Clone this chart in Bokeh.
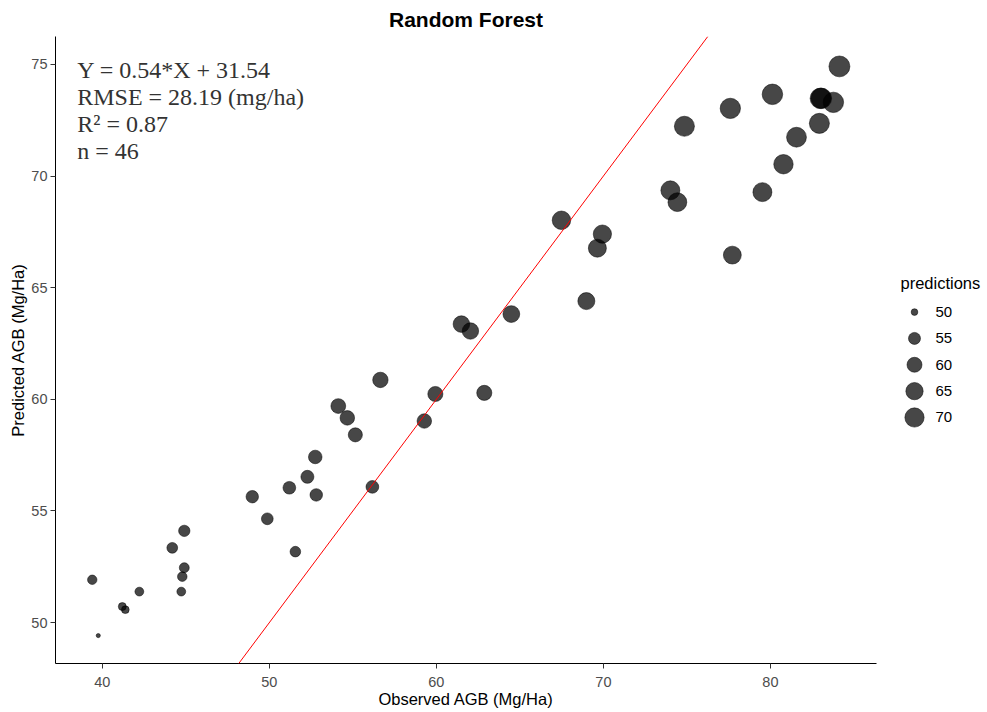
import math
from bokeh.plotting import figure
from bokeh.models import Range1d, FixedTicker, Slope, Label
from bokeh.layouts import row
from bokeh.embed import file_html
from bokeh.resources import INLINE

# ---- data ----
observed = [39.40, 39.76, 41.20, 41.38, 42.22, 44.19, 44.73, 44.79, 44.91, 44.91,
            48.98, 49.88, 51.20, 51.56, 52.28, 52.75, 52.81, 54.13, 54.67, 55.15,
            56.65, 56.17, 59.28, 59.94, 61.50, 62.04, 62.87, 64.49, 67.49, 68.98,
            69.64, 69.94, 74.01, 74.43, 74.85, 77.60, 77.72, 79.52, 80.12, 80.78,
            81.56, 82.93, 82.99, 83.05, 83.77, 84.13]
predicted = [51.92, 49.42, 50.72, 50.58, 51.39, 53.35, 51.39, 52.06, 52.46, 54.11,
             55.64, 54.65, 56.04, 53.18, 56.53, 57.42, 55.72, 59.70, 59.17, 58.41,
             60.87, 56.08, 59.03, 60.24, 63.37, 63.06, 60.29, 63.82, 68.02, 64.40,
             66.77, 67.40, 69.36, 68.83, 72.23, 73.03, 66.46, 69.28, 73.66, 70.53,
             71.74, 72.36, 73.48, 73.48, 73.30, 74.91]
x_ticks = [40, 50, 60, 70, 80]
y_ticks = [50, 55, 60, 65, 70, 75]
legend_values = [50, 55, 60, 65, 70]
stats_lines = ["Y = 0.54*X + 31.54", "RMSE = 28.19 (mg/ha)", "R\u00b2 = 0.87", "n = 46"]

# size scale (area-like, as in ggplot scale_size)
vmin, vmax = min(predicted), max(predicted)
def size_scale(v):
    t = max(0.0, (v - vmin) / (vmax - vmin))
    return 4.15 + 16.8 * math.sqrt(t)

sizes = [size_scale(v) for v in predicted]

FONT = "Liberation Sans"
W, H = 987, 712
MAIN_W = 888
TOP, BOTTOM = 35, 663

p = figure(width=MAIN_W, height=H,
           x_range=Range1d(37.2, 86.35), y_range=Range1d(48.17, 76.25),
           output_backend="svg", toolbar_location=None,
           min_border_left=55, min_border_top=TOP, min_border_right=MAIN_W - 876,
           min_border_bottom=H - BOTTOM, title="Random Forest")
p.title.align = "center"
p.title.text_font = FONT
p.title.text_font_size = "21px"
p.title.text_font_style = "bold"
p.title.text_color = "black"
p.title.standoff = 11
p.grid.visible = False
p.outline_line_color = None
p.background_fill_color = "white"
p.border_fill_color = "white"

p.xaxis.ticker = FixedTicker(ticks=x_ticks)
p.yaxis.ticker = FixedTicker(ticks=y_ticks)
for ax in (p.xaxis, p.yaxis):
    ax.axis_line_color = "black"
    ax.axis_line_width = 1
    ax.major_tick_line_color = "#333333"
    ax.major_tick_out = 5
    ax.major_tick_in = 0
    ax.minor_tick_line_color = None
    ax.major_label_text_color = "#4d4d4d"
    ax.major_label_text_font = FONT
    ax.major_label_text_font_size = "14.5px"
    ax.axis_label_text_font = FONT
    ax.axis_label_text_font_size = "16.5px"
    ax.axis_label_text_font_style = "normal"
    ax.axis_label_text_color = "black"
p.xaxis.axis_label = "Observed AGB (Mg/Ha)"
p.yaxis.axis_label = "Predicted AGB (Mg/Ha)"
p.xaxis.major_label_standoff = 8
p.xaxis.axis_label_standoff = 0
p.yaxis.major_label_standoff = 3
p.yaxis.axis_label_standoff = 1

p.add_layout(Slope(gradient=1, y_intercept=0, line_color="red", line_width=1))

p.scatter(observed, predicted, size=sizes, fill_color="black", fill_alpha=0.72,
          line_color="black", line_alpha=0.5, line_width=1)

baselines = [74.77, 73.56, 72.34, 71.11]
for txt, yb in zip(stats_lines, baselines):
    p.add_layout(Label(x=38.5, y=yb, text=txt, text_font="Liberation Serif",
                       text_font_size="24px", text_color="#333333",
                       text_baseline="alphabetic"))

# ---- legend panel (pixel coordinates, y downward, frame aligned with main) ----
LW = W - MAIN_W
lp = figure(width=LW, height=H, x_range=Range1d(0, LW), y_range=Range1d(BOTTOM, TOP),
            output_backend="svg", toolbar_location=None,
            min_border_left=0, min_border_right=0,
            min_border_top=TOP, min_border_bottom=H - BOTTOM,
            x_axis_type=None, y_axis_type=None)
lp.grid.visible = False
lp.outline_line_color = None
lp.add_layout(Label(x=12, y=282, text="predictions", text_font=FONT,
                    text_font_size="16.5px", text_color="black",
                    text_baseline="middle"))
row0, step = 311, 26.4
ly = [row0 + i * step for i in range(len(legend_values))]
lx = [26] * len(legend_values)
lp.scatter(lx, ly, size=[size_scale(v) for v in legend_values], fill_color="black",
           fill_alpha=0.72, line_color="black", line_alpha=0.5, line_width=1)
lp.text([47] * len(legend_values), ly, text=[str(v) for v in legend_values],
        text_font_size="15px", text_baseline="middle", text_color="black",
        text_font={"value": FONT})

layout = row(p, lp)
open("out.html", "w").write(file_html(layout, INLINE))
